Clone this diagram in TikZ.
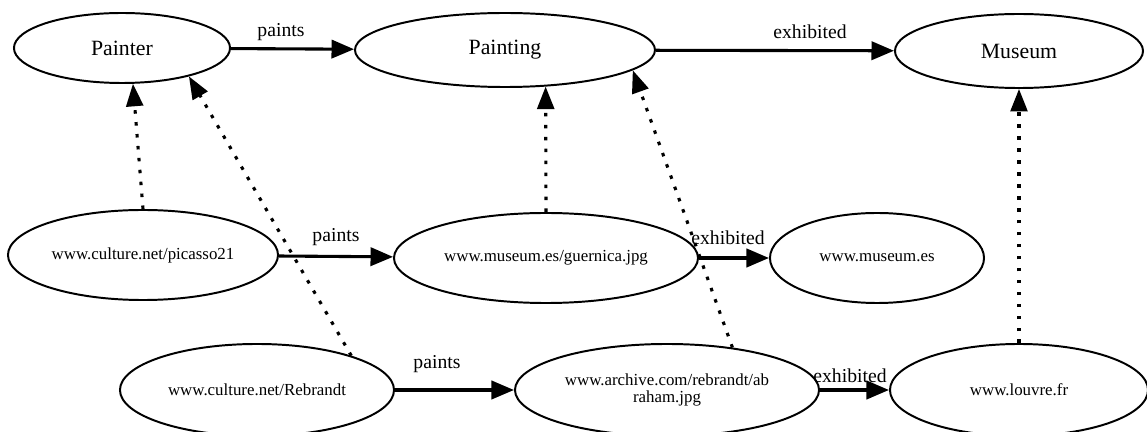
\documentclass[tikz,border=0pt]{standalone}
\usepackage{fontspec}
\setmainfont{Liberation Serif}
\usetikzlibrary{shapes.geometric,arrows.meta}
\begin{document}
\begin{tikzpicture}[x=0.025cm,y=-0.025cm,
  concept/.style={ellipse,draw,line width=1.4pt,inner sep=0pt,
    font=\fontsize{15.5}{18}\selectfont},
  resource/.style={ellipse,draw,line width=1.4pt,inner sep=0pt,align=center,
    font=\fontsize{12}{12.5}\selectfont},
  rel/.style={line width=2.2pt,-{Triangle[length=16pt,width=13pt]}},
  inst/.style={line width=2.2pt,dash pattern=on 2.5pt off 6pt,
    -{Triangle[length=16pt,width=12pt]}},
  lbl/.style={font=\fontsize{14}{16}\selectfont,inner sep=1pt}]
\clip (0,0) rectangle (1147,432);

% schema level
\node[concept,minimum width=5.4cm,minimum height=1.75cm] (painter) at (122,48) {Painter};
\node[concept,minimum width=7.5cm,minimum height=1.85cm] (painting) at (505,50) {Painting};
\node[concept,minimum width=6.2cm,minimum height=1.85cm] (museum) at (1019,51) {Museum};

% first group of resources
\node[resource,minimum width=6.75cm,minimum height=2.25cm] (picasso) at (143,255) {www.culture.net/picasso21};
\node[resource,minimum width=7.6cm,minimum height=2.25cm] (guernica) at (546,258) {www.museum.es/guernica.jpg};
\node[resource,minimum width=5.35cm,minimum height=2.25cm] (museumes) at (877,258) {www.museum.es};

% second group of resources
\node[resource,minimum width=6.85cm,minimum height=2.3cm] (rebrandt) at (257,390) {www.culture.net/Rebrandt};
\node[resource,minimum width=7.6cm,minimum height=2.3cm] (archive) at (667,390) {www.archive.com/rebrandt/ab\\raham.jpg};
\node[resource,minimum width=6.45cm,minimum height=2.3cm] (louvre) at (1019,390) {www.louvre.fr};

% properties
\draw[rel] (painter) -- (painting);
\draw[rel] (painting) -- (museum);
\draw[rel] (picasso) -- (guernica);
\draw[rel] (guernica) -- (museumes);
\draw[rel] (rebrandt) -- (archive);
\draw[rel] (archive) -- (louvre);

\node[lbl] (p1) at (281,32) {paints};
\node[lbl] (e1) at (810,32) {exhibited};
\node[lbl] (p2) at (336,237) {paints};
\node[lbl] (e2) at (728,238) {exhibited};
\node[lbl] (p3) at (437,364) {paints};
\node[lbl] (e3) at (850,376) {exhibited};

% instance-of links
\draw[inst] (picasso.north) -- (painter.-73);
\draw[inst] (rebrandt.20) -- (painter.-23);
\draw[inst] (guernica.north) -- (painting.-42);
\draw[inst] (archive.33) -- (painting.-9);
\draw[inst] (louvre.north) -- (museum.south);
\end{tikzpicture}
\end{document}
